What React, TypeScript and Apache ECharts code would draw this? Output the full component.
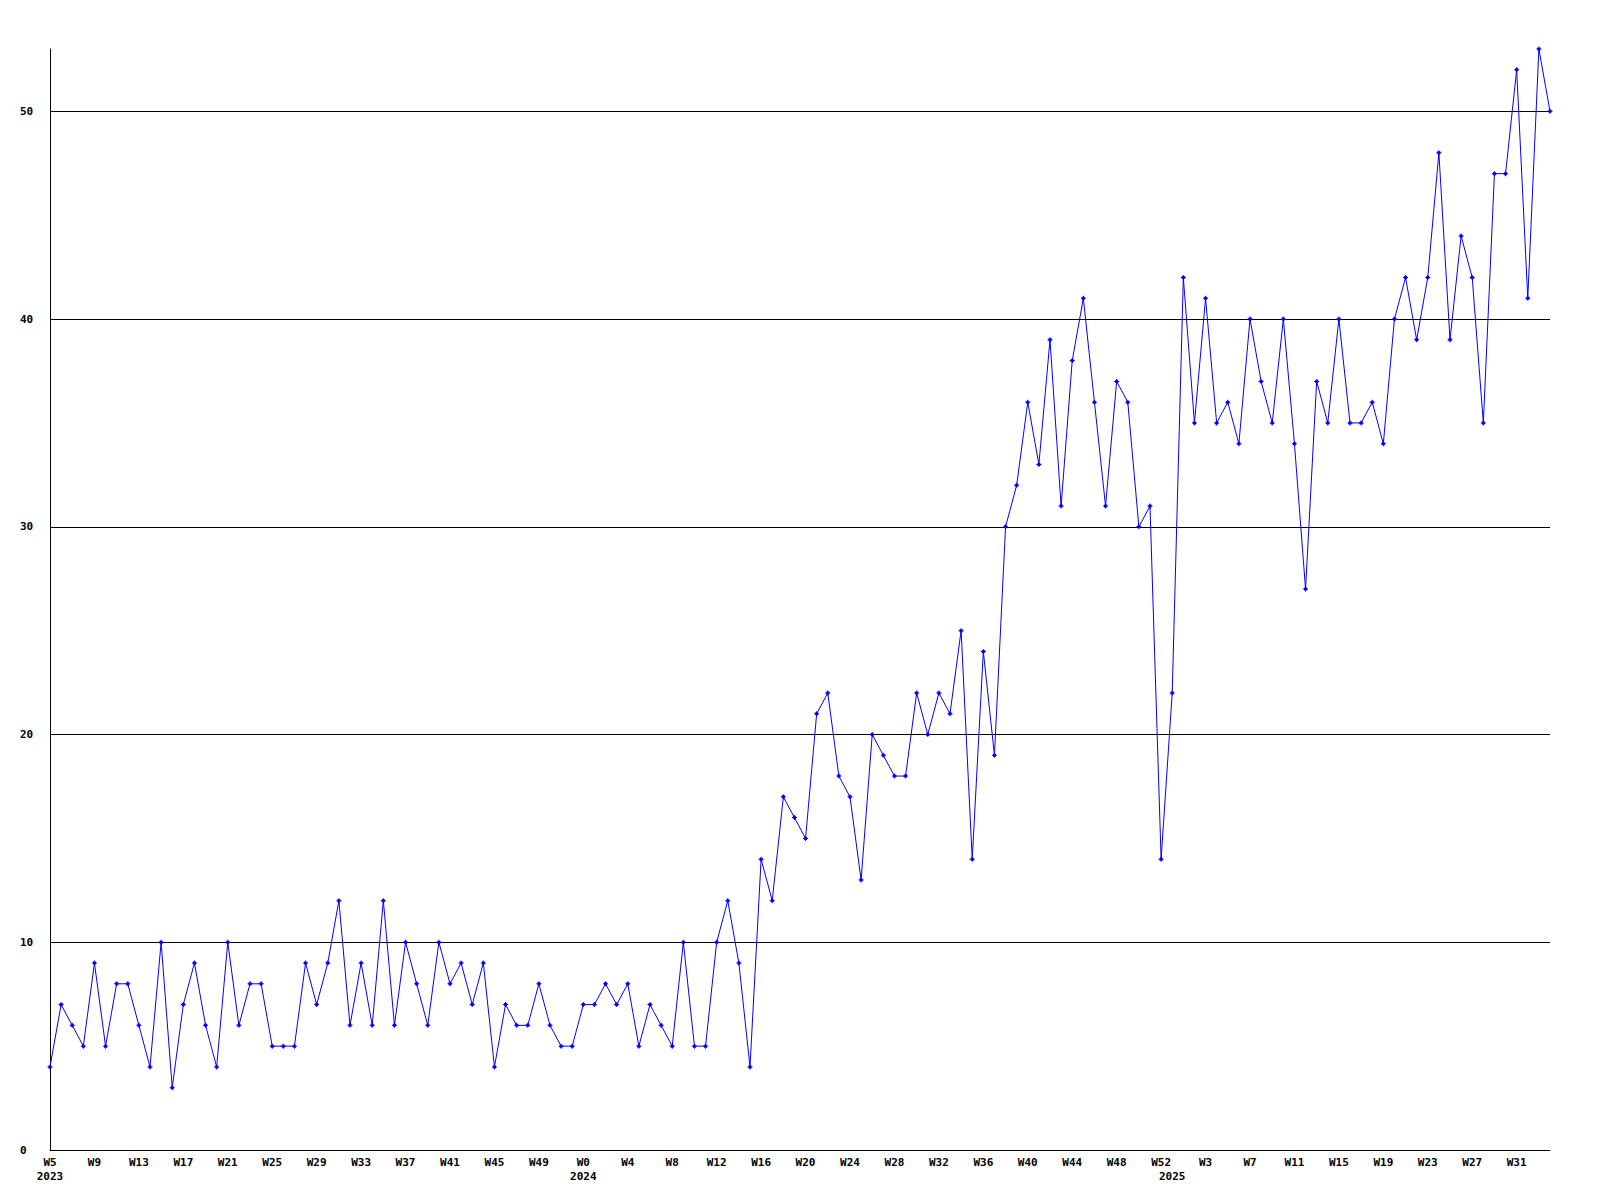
import React, { useEffect, useRef } from "react";
import * as echarts from "echarts";

// Week ranges per year
const years = [2023, 2024, 2025];
const firstWeek = [5, 0, 0];
const lastWeek = [52, 52, 34];

// Weekly values per year
const values2023 = [
  4, 7, 6, 5, 9, 5, 8, 8, 6, 4, 10, 3, 7, 9, 6, 4, 10, 6, 8, 8, 5, 5, 5, 9,
  7, 9, 12, 6, 9, 6, 12, 6, 10, 8, 6, 10, 8, 9, 7, 9, 4, 7, 6, 6, 8, 6, 5, 5,
];
const values2024 = [
  7, 7, 8, 7, 8, 5, 7, 6, 5, 10, 5, 5, 10, 12, 9, 4, 14, 12, 17, 16, 15, 21,
  22, 18, 17, 13, 20, 19, 18, 18, 22, 20, 22, 21, 25, 14, 24, 19, 30, 32, 36,
  33, 39, 31, 38, 41, 36, 31, 37, 36, 30, 31, 14,
];
const values2025 = [
  22, 42, 35, 41, 35, 36, 34, 40, 37, 35, 40, 34, 27, 37, 35, 40, 35, 35, 36,
  34, 40, 42, 39, 42, 48, 39, 44, 42, 35, 47, 47, 52, 41, 53, 50,
];

const yTicks = [0, 10, 20, 30, 40, 50];
const yMax = 53;

const categories: string[] = [];
const categoryYear: number[] = [];
const yearStartIndex: number[] = [];
years.forEach((y, yi) => {
  yearStartIndex.push(categories.length);
  for (let w = firstWeek[yi]; w <= lastWeek[yi]; w++) {
    categories.push("W" + w);
    categoryYear.push(y);
  }
});
const values = [...values2023, ...values2024, ...values2025];

const FONT = "'DejaVu Sans Mono', 'Liberation Mono', monospace";

export default function App() {
  const ref = useRef<HTMLDivElement>(null);
  useEffect(() => {
    document.body.style.margin = "0";
    if (!ref.current) return;
    const chart = echarts.init(ref.current, undefined, { renderer: "svg" });
    chart.setOption({
      animation: false,
      backgroundColor: "#ffffff",
      grid: { left: 50, right: 50, top: 49, bottom: 50, containLabel: false },
      xAxis: {
        type: "category",
        data: categories,
        boundaryGap: false,
        axisLine: { show: true, lineStyle: { color: "#000000", width: 1 } },
        axisTick: { show: false },
        splitLine: { show: false },
        axisLabel: {
          interval: (i: number) => i % 4 === 0 || yearStartIndex.includes(i),
          formatter: (v: string, i: number) => {
            const isYear = yearStartIndex.includes(i);
            const isTick = i % 4 === 0;
            if (isYear && isTick) return v + "\n" + categoryYear[i];
            if (isYear) return " \n" + categoryYear[i];
            return v;
          },
          color: "#000000",
          fontFamily: FONT,
          fontWeight: "bold",
          fontSize: 11,
          lineHeight: 14,
          margin: 5,
          verticalAlign: "top",
        },
      },
      yAxis: {
        type: "value",
        min: 0,
        max: yMax,
        interval: 10,
        axisLine: { show: true, lineStyle: { color: "#000000", width: 1 } },
        axisTick: { show: false },
        splitLine: { show: false },
        axisLabel: {
          formatter: (v: number) => (yTicks.includes(v) ? String(v) : ""),
          showMaxLabel: false,
          color: "#000000",
          fontFamily: FONT,
          fontWeight: "bold",
          fontSize: 11,
          align: "left",
          margin: 30,
        },
      },
      series: [
        {
          type: "line",
          data: values,
          symbol:
            "path://M2,0L3,0L3,1L4,1L4,2L5,2L5,3L4,3L4,4L3,4L3,5L2,5L2,4L1,4L1,3L0,3L0,2L1,2L1,1L2,1Z",
          symbolSize: 5,
          showSymbol: true,
          itemStyle: { color: "#0000ff" },
          lineStyle: { color: "#0000ff", width: 1 },
          markLine: {
            silent: true,
            symbol: "none",
            label: { show: false },
            lineStyle: { color: "#000000", width: 1, type: "solid" },
            emphasis: { disabled: true },
            data: yTicks.filter((v) => v > 0).map((v) => ({ yAxis: v })),
            z: 1,
          },
        },
      ],
    });
    return () => chart.dispose();
  }, []);
  return <div ref={ref} style={{ width: 1600, height: 1200 }} />;
}
